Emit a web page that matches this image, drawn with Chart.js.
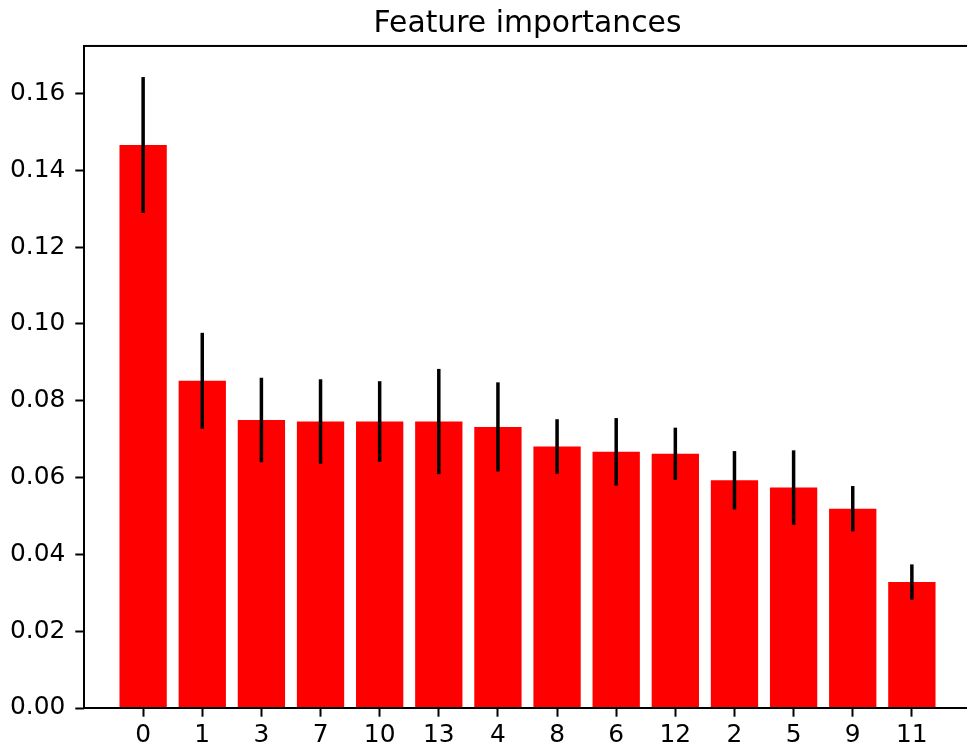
<!DOCTYPE html>
<html>
<head>
<meta charset="utf-8">
<title>Feature importances</title>
<script src="https://cdn.jsdelivr.net/npm/chart.js@4"></script>
<style>
  html, body { margin: 0; padding: 0; background: #fff; overflow: hidden; }
  #wrap { width: 971px; height: 753px; }
</style>
</head>
<body>
<div id="wrap"><canvas id="chart" width="971" height="753"></canvas></div>
<script>
// Feature indices, ordered by decreasing importance
const featureLabels = ['0', '1', '3', '7', '10', '13', '4', '8', '6', '12', '2', '5', '9', '11'];
// Mean importance of each feature
const importances = [0.1466, 0.0852, 0.0750, 0.0746, 0.0746, 0.0746, 0.0732, 0.0681, 0.0667, 0.0662, 0.0593, 0.0574, 0.0519, 0.0328];
// Standard deviation across trees (drawn as vertical error bars)
const stdDevs = [0.0177, 0.0125, 0.0110, 0.0110, 0.0105, 0.0137, 0.0116, 0.0071, 0.0088, 0.0068, 0.0076, 0.0097, 0.0059, 0.0046];
// Y axis tick values
const yTicks = [0.00, 0.02, 0.04, 0.06, 0.08, 0.10, 0.12, 0.14, 0.16];

const FONT = 'DejaVu Sans';
const TICK_SIZE = 24.86;
const TITLE_SIZE = 29.8;

// Vertical error bars through the y scale
const errorBars = {
  id: 'errorBars',
  afterDatasetsDraw(chart) {
    const ctx = chart.ctx;
    const xs = chart.scales.x, ys = chart.scales.y;
    ctx.save();
    ctx.strokeStyle = '#000';
    ctx.lineWidth = 3.5;
    ctx.lineCap = 'butt';
    importances.forEach((v, i) => {
      const x = xs.getPixelForValue(i);
      ctx.beginPath();
      ctx.moveTo(x, ys.getPixelForValue(v + stdDevs[i]));
      ctx.lineTo(x, ys.getPixelForValue(v - stdDevs[i]));
      ctx.stroke();
    });
    ctx.restore();
  }
};

// Axes frame (all four spines)
const frame = {
  id: 'frame',
  afterDatasetsDraw(chart) {
    const a = chart.chartArea, ctx = chart.ctx;
    ctx.save();
    ctx.strokeStyle = '#000';
    ctx.lineWidth = 2;
    ctx.strokeRect(a.left, a.top, a.right - a.left, a.bottom - a.top);
    ctx.restore();
  }
};

const tickGrid = {
  display: true,
  offset: false,
  drawOnChartArea: false,
  drawTicks: true,
  tickLength: 8.7,
  tickWidth: 2,
  tickColor: '#000'
};

new Chart(document.getElementById('chart'), {
  type: 'bar',
  data: {
    datasets: [{
      data: importances.map((v, i) => ({ x: i, y: v })),
      backgroundColor: '#ff0000',
      borderWidth: 0,
      barPercentage: 0.8,
      categoryPercentage: 1.0
    }]
  },
  options: {
    responsive: false,
    animation: false,
    devicePixelRatio: 1,
    layout: { padding: { left: 0, right: 0, top: 0, bottom: 0 } },
    plugins: {
      legend: { display: false },
      tooltip: { enabled: false },
      title: {
        display: true,
        text: 'Feature importances',
        fullSize: false,
        color: '#000',
        font: { family: FONT, size: TITLE_SIZE, weight: 'normal', lineHeight: 1.2 },
        padding: { top: 6.2, bottom: 4 }
      }
    },
    scales: {
      x: {
        type: 'linear',
        min: -1,
        max: 14,
        offset: false,
        afterBuildTicks: (scale) => { scale.ticks = featureLabels.map((_, i) => ({ value: i })); },
        afterFit: (scale) => { scale.height = 45; },
        border: { display: false },
        grid: tickGrid,
        ticks: {
          color: '#000',
          padding: 4,
          maxRotation: 0,
          autoSkip: false,
          font: { family: FONT, size: TICK_SIZE, lineHeight: 1.2 },
          callback: (v) => featureLabels[v]
        }
      },
      y: {
        type: 'linear',
        min: 0,
        max: 0.1724,
        afterBuildTicks: (scale) => { scale.ticks = yTicks.map(v => ({ value: v })); },
        afterFit: (scale) => { scale.width = 84; },
        border: { display: false },
        grid: tickGrid,
        ticks: {
          color: '#000',
          padding: 10,
          font: { family: FONT, size: TICK_SIZE, lineHeight: 1.2 },
          callback: (v) => v.toFixed(2)
        }
      }
    }
  },
  plugins: [errorBars, frame]
});
</script>
</body>
</html>
